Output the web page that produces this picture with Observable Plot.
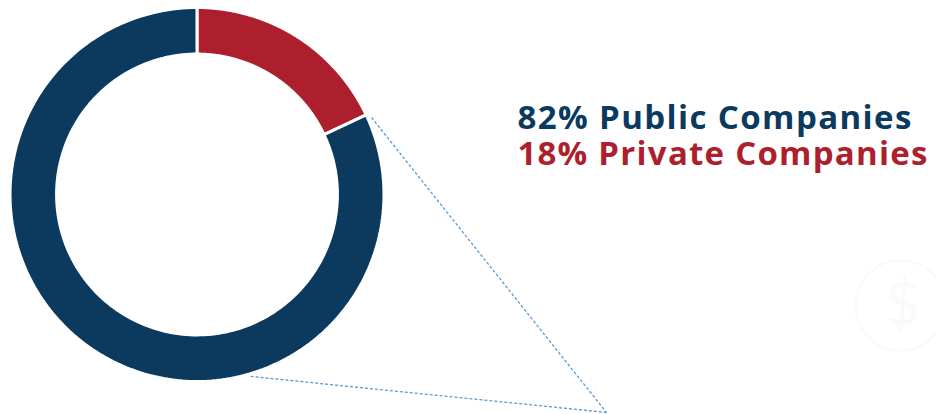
<!DOCTYPE html>
<html><head><meta charset="utf-8">
<script src="https://cdn.jsdelivr.net/npm/d3@7"></script>
<script src="https://cdn.jsdelivr.net/npm/@observablehq/plot@0.6"></script>
<style>html,body{margin:0;padding:0;background:#fff;overflow:hidden}</style>
</head><body><div id="chart"></div>
<script>
// ---- data ----
const categories = ["Private Companies", "Public Companies"];
const shares = [18, 82];
const colors = ["#ae1f2e", "#0b3a5e"];
const legendLabels = ["82% Public Companies", "18% Private Companies"];
const legendColors = ["#0b3a5e", "#ae1f2e"];

// ---- geometry (donut radius = 1 data unit) ----
const outerR = 1.008, innerR = 0.757, steps = 200;
const pie = d3.pie().sort(null).value(d => d.share)(categories.map((c, i) => ({category: c, share: shares[i]})));
const ring = [];
for (const p of pie) {
  for (let i = 0; i <= steps; i++) {
    const t = p.startAngle + (p.endAngle - p.startAngle) * i / steps;
    ring.push({category: p.data.category,
      x1: outerR * Math.sin(t), y1: outerR * Math.cos(t),
      x2: innerR * Math.sin(t), y2: innerR * Math.cos(t)});
  }
}
// callout lines from the ring edge to a point below-right
const calloutTarget = {x: 2.205, y: -1.1725};
const anchorAngles = [66, 163.7];
const anchorRadius = [1.027, 1.019];
const connectors = anchorAngles.map((a, i) => {
  const t = a * Math.PI / 180;
  return {x1: anchorRadius[i] * Math.sin(t), y1: anchorRadius[i] * Math.cos(t), x2: calloutTarget.x, y2: calloutTarget.y};
});
const legendY = [0.3531, 0.1644];
const legendWidths = [394, 410];
const legend = legendLabels.map((t, i) => ({text: t, color: legendColors[i], x: 1.7245, y: legendY[i]}));

const chart = Plot.plot({
  width: 936, height: 414, margin: 0,
  x: {domain: [-1.062, 3.984], axis: null},
  y: {domain: [-1.1833, 1.0485], axis: null},
  color: {domain: categories, range: colors},
  style: {background: "white"},
  marks: [
    Plot.dot([{x: 3.79, y: -0.596}], {x: "x", y: "y", r: 45, stroke: "#fafafa", strokeWidth: 2.5}),
    Plot.text([{x: 3.80, y: -0.596}], {x: "x", y: "y", text: () => "$", fontSize: 60, fill: "#fafafa", fontFamily: "Lato"}),
    Plot.area(ring, {x1: "x1", y1: "y1", x2: "x2", y2: "y2", z: "category", fill: "category", stroke: "white", strokeWidth: 3, curve: "linear"}),
    Plot.link(connectors, {x1: "x1", y1: "y1", x2: "x2", y2: "y2", stroke: "#5b9bd5", strokeWidth: 1.3, strokeDasharray: "3,2"}),
    Plot.text(legend, {x: "x", y: "y", text: "text", fill: d => d.color, fontSize: 33, fontWeight: "bold", fontFamily: "Open Sans", textAnchor: "start", lineAnchor: "bottom"})
  ]
});
chart.querySelectorAll("text").forEach(el => {
  const i = legendLabels.indexOf(el.textContent);
  if (i >= 0) { el.setAttribute("textLength", legendWidths[i]); el.setAttribute("lengthAdjust", "spacing"); }
});
document.getElementById("chart").append(chart);
</script>
</body></html>
